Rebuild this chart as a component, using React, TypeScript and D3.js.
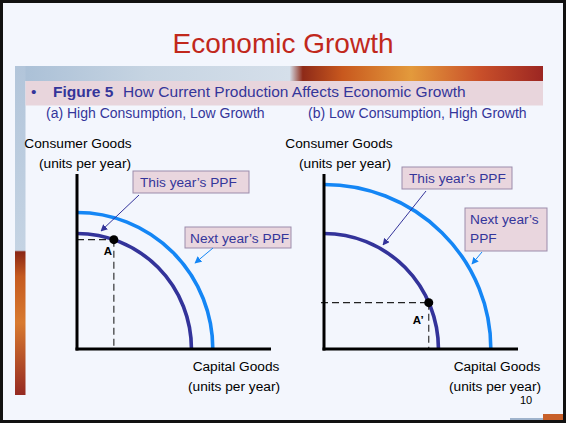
import React from "react";
import * as d3 from "d3";

// ---- Data (units are abstract "goods per year", 0–100 on each axis) ----
const panelKeys = ["a", "b"];
const panelSubtitles = ["(a) High Consumption, Low Growth", "(b) Low Consumption, High Growth"];
// PPF intercepts: [capital-goods intercept, consumer-goods intercept]
const thisYearPPF = [
  [59, 66],
  [59, 66],
];
const nextYearPPF = [
  [70, 78],
  [86, 94],
];
// chosen production points [capital, consumer]
const productionPoints = [
  [19, 62.5],
  [54, 26.5],
];
const pointLabels = ["A", "A\u2019"];
const yAxisLabel = ["Consumer Goods", "(units per year)"];
const xAxisLabel = ["Capital Goods", "(units per year)"];
const thisYearLabel = ["This year\u2019s PPF"];
const nextYearLabels = [["Next year\u2019s PPF"], ["Next year\u2019s", "PPF"]];
const titleText = "Economic Growth";
const figureLabel = "Figure 5";
const figureCaption = "How Current Production Affects Economic Growth";
const pageNumber = "10";

const FONT = "'Liberation Sans', Arial, Helvetica, sans-serif";
const DARK = "#33339a";
const BRIGHT = "#1486f5";
const TEXT_BLUE = "#34359a";

type Layout = {
  ox: number;
  xEnd: number;
  yAxisLabelX: [number, number];
  xAxisLabelX: number;
  thisBox: { x: number; y: number; w: number; h: number; arrow: [number, number, number, number] };
  nextBox: { x: number; y: number; w: number; h: number; arrow: [number, number, number, number] };
  dashFromX: number;
  ptLabelDx: number;
  ptLabelDy: number;
};

const layouts: Layout[] = [
  {
    ox: 77,
    xEnd: 271,
    yAxisLabelX: [78, 85],
    xAxisLabelX: 236,
    thisBox: { x: 133, y: 171, w: 116, h: 22, arrow: [139, 195, 101, 231] },
    nextBox: { x: 185, y: 227, w: 106, h: 21, arrow: [213, 248, 195, 263] },
    dashFromX: 77,
    ptLabelDx: -10,
    ptLabelDy: 15,
  },
  {
    ox: 324,
    xEnd: 518,
    yAxisLabelX: [339, 345],
    xAxisLabelX: 497,
    thisBox: { x: 402, y: 167, w: 110, h: 22, arrow: [426, 191, 383, 245] },
    nextBox: { x: 465, y: 208, w: 82, h: 43, arrow: [482, 252, 472, 264] },
    dashFromX: 321,
    ptLabelDx: -16,
    ptLabelDy: 21,
  },
];

const OY = 349;
const YTOP = 174;

function Panel({ i }: { i: number }) {
  const L = layouts[i];
  const x = d3.scaleLinear().domain([0, 100]).range([L.ox, L.ox + 194]);
  const y = d3.scaleLinear().domain([0, 100]).range([OY, OY - 175]);

  const arcPath = (ppf: number[]) => {
    const rx = x(ppf[0]) - x(0);
    const ry = y(0) - y(ppf[1]);
    return `M${x(0)},${y(ppf[1])} A${rx},${ry} 0 0 1 ${x(ppf[0])},${y(0)}`;
  };
  const [px, py] = productionPoints[i];
  const tb = L.thisBox;
  const nb = L.nextBox;
  const nextLines = nextYearLabels[i];

  return (
    <g>
      {/* PPF curves */}
      <path d={arcPath(nextYearPPF[i])} fill="none" stroke={BRIGHT} strokeWidth={3.6} />
      <path d={arcPath(thisYearPPF[i])} fill="none" stroke={DARK} strokeWidth={3.6} />
      {/* dashed guides */}
      <line x1={L.dashFromX} y1={y(py)} x2={x(px)} y2={y(py)} stroke="#222" strokeWidth={1.1} strokeDasharray="7,4" />
      <line x1={x(px)} y1={y(py)} x2={x(px)} y2={y(0)} stroke="#222" strokeWidth={1.1} strokeDasharray="7,4" />
      {/* axes */}
      <line x1={L.ox} y1={YTOP} x2={L.ox} y2={OY + 1.5} stroke="#000" strokeWidth={3} />
      <line x1={L.ox - 1.5} y1={OY} x2={L.xEnd} y2={OY} stroke="#000" strokeWidth={3} />
      {/* point */}
      <circle cx={x(px)} cy={y(py)} r={4.5} fill="#000" />
      <text x={x(px) + L.ptLabelDx} y={y(py) + L.ptLabelDy} fontFamily={FONT} fontWeight="bold" fontSize={11.5} fill="#000">
        {pointLabels[i]}
      </text>
      {/* axis labels */}
      <text x={L.yAxisLabelX[0]} y={148} textAnchor="middle" fontFamily={FONT} fontSize={13.7} fill="#000">
        {yAxisLabel[0]}
      </text>
      <text x={L.yAxisLabelX[1]} y={168} textAnchor="middle" fontFamily={FONT} fontSize={13.7} fill="#000">
        {yAxisLabel[1]}
      </text>
      <text x={L.xAxisLabelX} y={371} textAnchor="middle" fontFamily={FONT} fontSize={13.7} fill="#000">
        {xAxisLabel[0]}
      </text>
      <text x={L.xAxisLabelX - 2} y={391} textAnchor="middle" fontFamily={FONT} fontSize={13.7} fill="#000">
        {xAxisLabel[1]}
      </text>
      {/* this year's callout */}
      <rect x={tb.x} y={tb.y} width={tb.w} height={tb.h} fill="#e9d6de" stroke="#9b8bab" strokeWidth={1} />
      <text x={tb.x + 7} y={tb.y + 16} fontFamily={FONT} fontSize={13.7} fill={TEXT_BLUE}>
        {thisYearLabel[0]}
      </text>
      <line
        x1={tb.arrow[0]} y1={tb.arrow[1]} x2={tb.arrow[2]} y2={tb.arrow[3]}
        stroke={DARK} strokeWidth={1} markerEnd="url(#arrowDark)"
      />
      {/* next year's callout */}
      <rect x={nb.x} y={nb.y} width={nb.w} height={nb.h} fill="#e9d6de" stroke="#9b8bab" strokeWidth={1} />
      {nextLines.map((t, k) => (
        <text key={k} x={nb.x + 5} y={nb.y + 16 + k * 19} fontFamily={FONT} fontSize={13.7} fill={TEXT_BLUE}>
          {t}
        </text>
      ))}
      <line
        x1={nb.arrow[0]} y1={nb.arrow[1]} x2={nb.arrow[2]} y2={nb.arrow[3]}
        stroke={BRIGHT} strokeWidth={1} markerEnd="url(#arrowBright)"
      />
    </g>
  );
}

export default function App() {
  return (
    <svg
      width={566}
      height={423}
      viewBox="0 0 566 423"
      style={{ position: "absolute", left: 0, top: 0, display: "block" }}
    >
      <defs>
        <linearGradient id="bannerGrad" x1="0" x2="1" y1="0" y2="0">
          <stop offset="0" stopColor="#a9bfd6" />
          <stop offset="0.25" stopColor="#c6d4e2" />
          <stop offset="0.52" stopColor="#d5dfea" />
          <stop offset="0.545" stopColor="#8e2a18" />
          <stop offset="0.62" stopColor="#c8581e" />
          <stop offset="0.75" stopColor="#e39a3c" />
          <stop offset="0.88" stopColor="#c9502a" />
          <stop offset="1" stopColor="#9c2622" />
        </linearGradient>
        <linearGradient id="stripGrad" x1="0" x2="0" y1="0" y2="1">
          <stop offset="0" stopColor="#b2c5da" />
          <stop offset="0.56" stopColor="#c4d3e3" />
          <stop offset="0.565" stopColor="#8a2615" />
          <stop offset="0.64" stopColor="#c55a20" />
          <stop offset="0.78" stopColor="#d87a30" />
          <stop offset="1" stopColor="#952a22" />
        </linearGradient>
        <marker id="arrowDark" viewBox="0 0 10 10" refX="9" refY="5" markerWidth="7" markerHeight="7" orient="auto" markerUnits="userSpaceOnUse">
          <path d="M0,0 L10,5 L0,10 z" fill={DARK} />
        </marker>
        <marker id="arrowBright" viewBox="0 0 10 10" refX="9" refY="5" markerWidth="7" markerHeight="7" orient="auto" markerUnits="userSpaceOnUse">
          <path d="M0,0 L10,5 L0,10 z" fill={BRIGHT} />
        </marker>
      </defs>
      {/* slide background */}
      <rect x={0} y={0} width={566} height={423} fill="#f3f6fd" />
      {/* decorative strips */}
      <rect x={15} y={66} width={528} height={15} fill="url(#bannerGrad)" />
      <rect x={15} y={66} width={10.5} height={329} fill="url(#stripGrad)" />
      <rect x={25.5} y={81} width={517.5} height={24.5} fill="#e8d5dc" />
      {/* bottom-right corner decoration */}
      <rect x={510} y={418} width={33} height={2} fill="#9fb3cc" />
      <rect x={543} y={414} width={20} height={6} fill="#c8602a" />
      {/* title */}
      <text x={283} y={53} textAnchor="middle" fontFamily={FONT} fontSize={28} fill="#c1281c">
        {titleText}
      </text>
      {/* figure caption */}
      <text x={31} y={97} fontFamily={FONT} fontSize={15.5} fill={TEXT_BLUE}>
        {"\u2022"}
      </text>
      <text x={53} y={97} fontFamily={FONT} fontSize={15.5} fill={TEXT_BLUE}>
        <tspan fontWeight="bold">{figureLabel}</tspan>
        <tspan x={123}>{figureCaption}</tspan>
      </text>
      {panelKeys.map((k, i) => (
        <text key={k} x={i === 0 ? 46 : 308} y={118} fontFamily={FONT} fontSize={14} fill={TEXT_BLUE}>
          {panelSubtitles[i]}
        </text>
      ))}
      {panelKeys.map((k, i) => (
        <Panel key={k} i={i} />
      ))}
      <text x={526} y={404} textAnchor="middle" fontFamily={FONT} fontSize={11} fill="#000">
        {pageNumber}
      </text>
      {/* slide border */}
      <rect x={1.5} y={1.5} width={563} height={420} fill="none" stroke="#111" strokeWidth={3} />
    </svg>
  );
}
